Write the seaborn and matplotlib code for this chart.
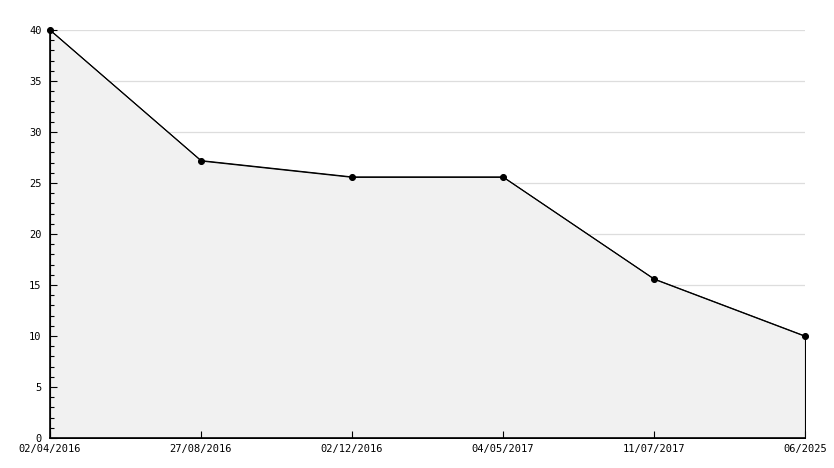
import matplotlib
matplotlib.use("Agg")
import matplotlib.pyplot as plt
import seaborn as sns
import pandas as pd
import numpy as np
from matplotlib.ticker import MultipleLocator

dates = ["02/04/2016", "27/08/2016", "02/12/2016", "04/05/2017", "11/07/2017", "06/2025"]
values = [40, 27.2, 25.6, 25.6, 15.6, 10]
grid_levels = [5, 10, 15, 20, 25, 30, 35, 40]

sns.set_theme(style="white")
plt.rcParams['font.family'] = ['DejaVu Sans Mono', 'DejaVu Sans']

df = pd.DataFrame({"pos": np.arange(len(dates)), "value": values})

fig = plt.figure(figsize=(8.34, 4.68), dpi=100)
ax = fig.add_axes([50/834, 30/468, 755/834, 408/468])

for g in grid_levels:
    ax.axhline(g, color="#dddddd", linewidth=0.9, zorder=0)

ax.fill_between(df["pos"], df["value"], 0, facecolor="#f1f1f1", edgecolor="black", linewidth=0.8, zorder=1)
sns.lineplot(data=df, x="pos", y="value", ax=ax, color="black", linewidth=0.75,
             marker="o", markersize=4.3, markeredgecolor="black", zorder=3, clip_on=False)

ax.set_xlim(0, len(dates) - 1)
ax.set_ylim(0, 40)
ax.set_xticks(df["pos"])
ax.set_xticklabels(dates)
ax.yaxis.set_major_locator(MultipleLocator(5))
ax.yaxis.set_minor_locator(MultipleLocator(1))
ax.set_xlabel("")
ax.set_ylabel("")
ax.set_axisbelow(False)

for s in ["top", "right"]:
    ax.spines[s].set_visible(False)
for s in ["left", "bottom"]:
    ax.spines[s].set_color("black")
    ax.spines[s].set_linewidth(1.2)

ax.tick_params(axis="y", which="major", direction="in", length=5, width=0.8, labelsize=7.5, colors="black", pad=6, left=True)
ax.tick_params(axis="y", which="minor", direction="in", length=3, width=0.8, left=True, color="black")
ax.tick_params(axis="x", which="major", direction="in", length=5, width=0.8, labelsize=7.5, colors="black", pad=4, bottom=True)

fig.savefig("out.png", dpi=100)
